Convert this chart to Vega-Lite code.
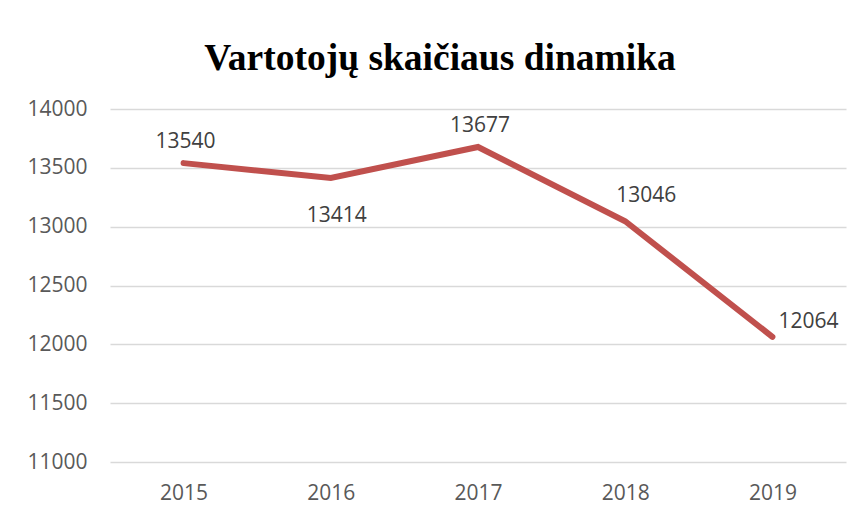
{
  "$schema": "https://vega.github.io/schema/vega-lite/v6.json",
  "width": 736,
  "height": 353,
  "autosize": "none",
  "padding": {"left": 110, "top": 109, "right": 16, "bottom": 56},
  "background": "white",
  "title": {
    "text": "Vartotojų skaičiaus dinamika",
    "font": "Liberation Serif",
    "fontSize": 37.5,
    "fontWeight": "bold",
    "color": "#000000",
    "anchor": "middle",
    "baseline": "alphabetic",
    "offset": 27,
    "dx": -38,
    "dy": 36
  },
  "config": {
    "view": {"stroke": null},
    "axis": {
      "labelFont": "Open Sans",
      "labelFontSize": 21,
      "labelColor": "#595959",
      "domain": false,
      "ticks": false,
      "title": null
    }
  },
  "data": {
    "values": [
      {"year": "2015", "value": 13540, "pos": "above"},
      {"year": "2016", "value": 13414, "pos": "below"},
      {"year": "2017", "value": 13677, "pos": "above"},
      {"year": "2018", "value": 13046, "pos": "aboveright"},
      {"year": "2019", "value": 12064, "pos": "right"}
    ]
  },
  "encoding": {
    "x": {
      "field": "year",
      "type": "ordinal",
      "scale": {"type": "point", "padding": 0.5},
      "axis": {"labelAngle": 0, "labelPadding": 20, "grid": false}
    },
    "y": {
      "field": "value",
      "type": "quantitative",
      "scale": {"domain": [11000, 14000], "nice": false, "zero": false},
      "axis": {
        "values": [11000, 11500, 12000, 12500, 13000, 13500, 14000],
        "labelPadding": 23,
        "grid": true,
        "gridColor": "#D9D9D9",
        "gridWidth": 1.5,
        "format": "d"
      }
    }
  },
  "layer": [
    {
      "mark": {"type": "line", "color": "#C0504D", "strokeWidth": 6, "strokeCap": "round", "strokeJoin": "miter"}
    },
    {
      "transform": [{"filter": "datum.pos === 'above'"}],
      "mark": {"type": "text", "font": "Open Sans", "fontSize": 21, "color": "#404040", "baseline": "alphabetic", "align": "center", "dx": 2, "dy": -15},
      "encoding": {"text": {"field": "value", "type": "quantitative", "format": "d"}}
    },
    {
      "transform": [{"filter": "datum.pos === 'aboveright'"}],
      "mark": {"type": "text", "font": "Open Sans", "fontSize": 21, "color": "#404040", "baseline": "alphabetic", "align": "center", "dx": 21, "dy": -19},
      "encoding": {"text": {"field": "value", "type": "quantitative", "format": "d"}}
    },
    {
      "transform": [{"filter": "datum.pos === 'below'"}],
      "mark": {"type": "text", "font": "Open Sans", "fontSize": 21, "color": "#404040", "baseline": "alphabetic", "align": "center", "dx": 6, "dy": 44},
      "encoding": {"text": {"field": "value", "type": "quantitative", "format": "d"}}
    },
    {
      "transform": [{"filter": "datum.pos === 'right'"}],
      "mark": {"type": "text", "font": "Open Sans", "fontSize": 21, "color": "#404040", "baseline": "alphabetic", "align": "left", "dx": 6, "dy": -9},
      "encoding": {"text": {"field": "value", "type": "quantitative", "format": "d"}}
    }
  ]
}
